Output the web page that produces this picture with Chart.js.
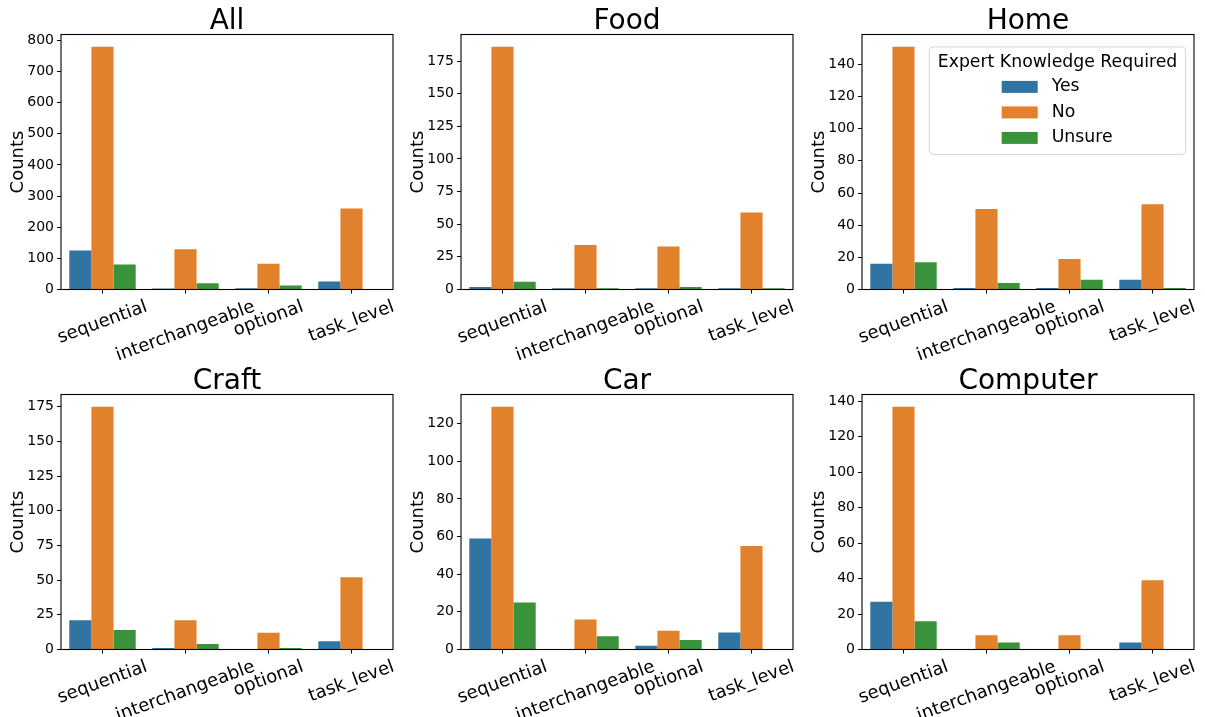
<!DOCTYPE html>
<html>
<head>
<meta charset="utf-8">
<script src="https://cdn.jsdelivr.net/npm/chart.js@4.4.1/dist/chart.umd.min.js"></script>
<style>
  body { margin: 0; background: #fff; width: 1205px; height: 717px; overflow: hidden; position: relative; }
  .panel { position: absolute; width: 400px; }
</style>
</head>
<body>
<div class="panel" style="left:0;top:0"><canvas id="c0" width="400" height="360"></canvas></div>
<div class="panel" style="left:400px;top:0"><canvas id="c1" width="400" height="360"></canvas></div>
<div class="panel" style="left:801px;top:0"><canvas id="c2" width="400" height="360"></canvas></div>
<div class="panel" style="left:0;top:360px"><canvas id="c3" width="400" height="357"></canvas></div>
<div class="panel" style="left:400px;top:360px"><canvas id="c4" width="400" height="357"></canvas></div>
<div class="panel" style="left:801px;top:360px"><canvas id="c5" width="400" height="357"></canvas></div>
<script>
// categories and hue levels
const categories = ['sequential', 'interchangeable', 'optional', 'task_level'];
const hueLabels = ['Yes', 'No', 'Unsure'];
const hueColors = ['#3274a1', '#e1812c', '#3a923a'];
const legendTitle = 'Expert Knowledge Required';

const panelTitles = ['All', 'Food', 'Home', 'Craft', 'Car', 'Computer'];
const yStepSizes = [100, 25, 20, 25, 20, 20];

// counts per panel, in category order (null = no bar)
const allYes = [125, 3, 4, 26];
const allNo = [780, 129, 83, 260];
const allUnsure = [80, 20, 13, 2];

const foodYes = [2, 1, 1, 1];
const foodNo = [186, 34, 33, 59];
const foodUnsure = [6, 1, 2, 1];

const homeYes = [16, 1, 1, 6];
const homeNo = [151, 50, 19, 53];
const homeUnsure = [17, 4, 6, 1];

const craftYes = [21, 1, null, 6];
const craftNo = [175, 21, 12, 52];
const craftUnsure = [14, 4, 1, null];

const carYes = [59, null, 2, 9];
const carNo = [129, 16, 10, 55];
const carUnsure = [25, 7, 5, null];

const computerYes = [27, null, null, 4];
const computerNo = [137, 8, 8, 39];
const computerUnsure = [16, 4, null, null];

const panelSeries = [
    [allYes, allNo, allUnsure],
    [foodYes, foodNo, foodUnsure],
    [homeYes, homeNo, homeUnsure],
    [craftYes, craftNo, craftUnsure],
    [carYes, carNo, carUnsure],
    [computerYes, computerNo, computerUnsure]
];

const FONT = '"DejaVu Sans", sans-serif';
const PLOT_TOP = 34.5;
const PLOT_HEIGHT = 255;

// box around the plot area, title above it, rotated category labels below
const axesDecor = {
    id: 'axesDecor',
    afterDatasetsDraw(chart) {
        const { ctx, chartArea: a } = chart;
        ctx.save();
        ctx.strokeStyle = '#000';
        ctx.lineWidth = 1.1;
        ctx.strokeRect(a.left, a.top, a.right - a.left, a.bottom - a.top);
        ctx.restore();
    },
    afterDraw(chart) {
        const { ctx, chartArea: a } = chart;
        ctx.save();
        ctx.fillStyle = '#000';
        ctx.font = `28px ${FONT}`;
        ctx.textAlign = 'center';
        ctx.textBaseline = 'alphabetic';
        ctx.fillText(chart.options.plugins.panelTitle, (a.left + a.right) / 2, a.top - 5.5);

        const xScale = chart.scales.x;
        const rot = 20 * Math.PI / 180;
        ctx.font = `18px ${FONT}`;
        ctx.textBaseline = 'middle';
        xScale.getLabels().forEach((lab, i) => {
            const x = xScale.getPixelForTick(i);
            const w = ctx.measureText(lab).width;
            const h = 18 * 1.17;
            const boxH = w * Math.sin(rot) + h * Math.cos(rot);
            const cy = a.bottom + 7 + boxH / 2;
            ctx.save();
            ctx.translate(x, cy);
            ctx.rotate(-rot);
            ctx.fillText(lab, 0, 0);
            ctx.restore();
        });
        ctx.restore();
    }
};

// legend box inside the Home panel, upper right
const legendBox = {
    id: 'legendBox',
    afterDraw(chart) {
        const { ctx, chartArea: a } = chart;
        const w = 256.4, h = 107.6;
        const x0 = a.right - 8.3 - w, y0 = a.top + 12.4;
        ctx.save();
        ctx.beginPath();
        ctx.roundRect(x0, y0, w, h, 4);
        ctx.fillStyle = 'rgba(255,255,255,0.8)';
        ctx.fill();
        ctx.strokeStyle = '#d6d6d6';
        ctx.lineWidth = 1;
        ctx.stroke();

        ctx.fillStyle = '#000';
        ctx.font = `17.3px ${FONT}`;
        ctx.textAlign = 'center';
        ctx.textBaseline = 'middle';
        ctx.fillText(legendTitle, x0 + w / 2, y0 + 15.3);

        ctx.textAlign = 'left';
        chart.data.datasets.forEach((ds, i) => {
            const cy = y0 + 40 + i * 25.5;
            ctx.fillStyle = ds.backgroundColor;
            ctx.fillRect(x0 + 72.4, cy - 6, 36, 12);
            ctx.fillStyle = '#000';
            ctx.fillText(ds.label, x0 + 122.4, cy);
        });
        ctx.restore();
    }
};

panelSeries.forEach((series, p) => {
    const canvas = document.getElementById('c' + p);
    const xAxisHeight = canvas.height - PLOT_TOP - PLOT_HEIGHT;
    const peak = Math.max(...series.flat().filter(v => v !== null));
    const plugins = [axesDecor];
    if (p === 2) plugins.push(legendBox);

    new Chart(canvas, {
        type: 'bar',
        data: {
            labels: categories,
            datasets: series.map((vals, k) => ({
                label: hueLabels[k],
                data: vals,
                backgroundColor: hueColors[k],
                borderWidth: 0,
                categoryPercentage: 0.8,
                barPercentage: 1.0
            }))
        },
        options: {
            responsive: false,
            animation: false,
            devicePixelRatio: 1,
            layout: { padding: { top: PLOT_TOP, right: 7, left: 0, bottom: 0 } },
            plugins: {
                legend: { display: false },
                tooltip: { enabled: false },
                panelTitle: panelTitles[p]
            },
            scales: {
                x: {
                    offset: true,
                    grid: { display: true, drawOnChartArea: false, drawTicks: true, tickLength: 4, color: '#000', offset: false },
                    border: { display: false },
                    ticks: { display: false },
                    afterFit: s => { s.height = xAxisHeight; }
                },
                y: {
                    min: 0,
                    max: peak * 1.05,
                    grid: { display: true, drawOnChartArea: false, drawTicks: true, tickLength: 4, color: '#000' },
                    border: { display: false },
                    ticks: {
                        stepSize: yStepSizes[p],
                        includeBounds: false,
                        color: '#000',
                        padding: 3,
                        font: { family: FONT, size: 14 }
                    },
                    title: {
                        display: true,
                        text: 'Counts',
                        color: '#000',
                        font: { family: FONT, size: 18 },
                        padding: { top: 8, bottom: 0 }
                    },
                    afterFit: s => { s.width = 61; }
                }
            }
        },
        plugins: plugins
    });
});
</script>
</body>
</html>
